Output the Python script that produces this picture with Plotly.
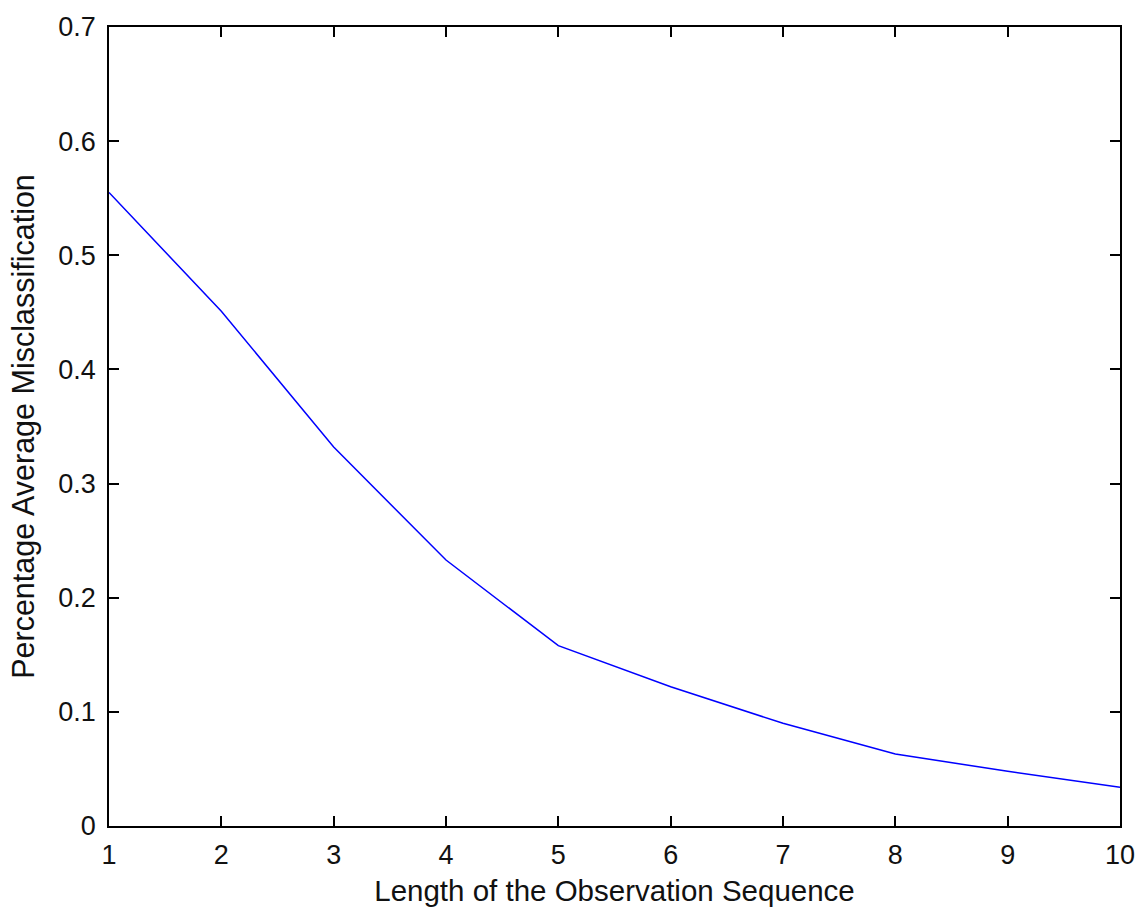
import plotly.graph_objects as go

seq_length = [1, 2, 3, 4, 5, 6, 7, 8, 9, 10]
misclassification = [0.555, 0.451, 0.332, 0.233, 0.158, 0.122, 0.090, 0.063, 0.048, 0.034]

x_ticks = [1, 2, 3, 4, 5, 6, 7, 8, 9, 10]
y_ticks = [0, 0.1, 0.2, 0.3, 0.4, 0.5, 0.6, 0.7]
y_tick_labels = ["0", "0.1", "0.2", "0.3", "0.4", "0.5", "0.6", "0.7"]

font_family = "Liberation Sans, Arial, sans-serif"

fig = go.Figure()
fig.add_trace(go.Scatter(
    x=seq_length, y=misclassification, mode="lines",
    line=dict(color="#0000ff", width=1.5), showlegend=False,
))

axis_common = dict(
    showgrid=False, zeroline=False, showline=True, linecolor="black", linewidth=1.5,
    mirror="ticks", ticks="inside", ticklen=10, tickwidth=1.5, tickcolor="black",
    tickfont=dict(family=font_family, size=27, color="#111111"),
)

fig.update_layout(
    width=1147, height=914,
    margin=dict(l=109, r=21, t=22, b=87),
    paper_bgcolor="white", plot_bgcolor="white",
    font=dict(family=font_family, size=25, color="#111111"),
    xaxis=dict(
        range=[1, 10], tickmode="array", tickvals=x_ticks,
        ticklabelstandoff=4,
        title=dict(text="Length of the Observation Sequence", font=dict(size=29.5), standoff=11),
        **axis_common,
    ),
    yaxis=dict(
        range=[0, 0.7], tickmode="array", tickvals=y_ticks, ticktext=y_tick_labels,
        ticklabelstandoff=6,
        title=dict(text="Percentage Average Misclassification", font=dict(size=30.5), standoff=15),
        **axis_common,
    ),
)

fig.write_html("out.html")
